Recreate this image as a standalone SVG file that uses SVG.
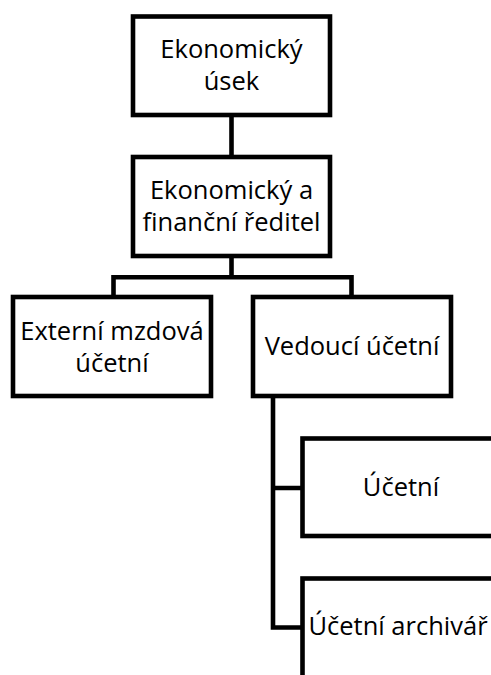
<svg xmlns="http://www.w3.org/2000/svg" width="491" height="675" viewBox="0 0 491 675">
<style>
.box{fill:#fff;stroke:#000;stroke-width:4.6;stroke-linejoin:miter}
.con{fill:none;stroke:#000;stroke-width:4.6;stroke-linejoin:miter;stroke-linecap:square}
text{font-family:"Open Sans","DejaVu Sans",sans-serif;font-size:25.5px;fill:#000;text-anchor:middle}
</style>
<rect width="491" height="675" fill="#fff"/>
<g id="connectors">
<path class="con" d="M231.5 115V157"/>
<path class="con" d="M231.5 256V277.3M113.5 297V277.3H351.5V297"/>
<path class="con" d="M273 396V627.5H302.5M273 488H302.5"/>
</g>
<g id="n1"><rect class="box" x="133" y="16.5" width="197" height="98.5"/><text x="231.5" y="58">Ekonomický</text><text x="231.5" y="90">úsek</text></g>
<g id="n2"><rect class="box" x="133" y="157" width="197" height="99"/><text x="231.5" y="199">Ekonomický a</text><text x="231.5" y="231">finanční ředitel</text></g>
<g id="n3"><rect class="box" x="13" y="297" width="198" height="99"/><text x="112" y="340">Externí mzdová</text><text x="112" y="372">účetní</text></g>
<g id="n4"><rect class="box" x="253" y="297" width="198" height="99"/><text x="352" y="355">Vedoucí účetní</text></g>
<g id="n5"><rect class="box" x="302.5" y="438.5" width="198" height="97.5"/><text x="401" y="496">Účetní</text></g>
<g id="n6"><rect class="box" x="302.5" y="578.5" width="198" height="100"/><text x="398" y="635">Účetní archivář</text></g>
</svg>
